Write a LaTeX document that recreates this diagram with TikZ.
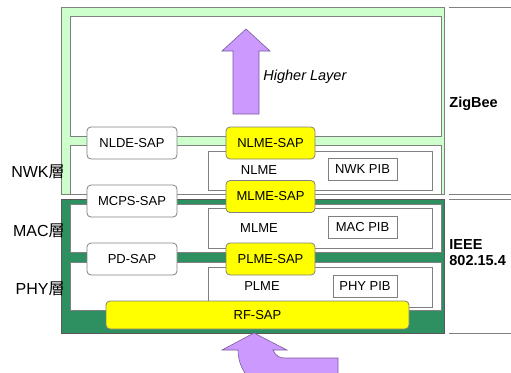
\documentclass[tikz,border=0pt]{standalone}
\usepackage{fontspec}
\setmainfont{Liberation Sans}
\newfontfamily\cjk{Noto Sans CJK JP}
\newlength{\du}
\setlength{\du}{1pt}

\begin{document}
\begin{tikzpicture}
\pgftransformxscale{1.000000}
\pgftransformyscale{-1.000000}
\definecolor{zbgreen}{rgb}{0.800000, 1.000000, 0.800000}
\definecolor{ieeegreen}{rgb}{0.180000, 0.560000, 0.380000}
\definecolor{sapyellow}{rgb}{1.000000, 1.000000, 0.000000}
\definecolor{uppurple}{rgb}{0.800000, 0.600000, 1.000000}
\definecolor{edgegray}{rgb}{0.500000, 0.500000, 0.500000}
\tikzset{
  sapbox/.style={draw=edgegray, rounded corners=4\du, fill=white, inner sep=0pt,
    minimum width=90\du, minimum height=32\du, font=\fontsize{13}{15}\selectfont},
  yellowsap/.style={sapbox, fill=sapyellow, minimum width=89\du},
  pibbox/.style={draw=edgegray, fill=white, inner sep=0pt,
    minimum width=69\du, minimum height=22\du, font=\fontsize{13}{15}\selectfont},
  plain/.style={inner sep=0pt, font=\fontsize{13}{15}\selectfont},
  layername/.style={inner sep=0pt, anchor=east, font=\fontsize{16}{18}\selectfont},
  stdname/.style={inner sep=0pt, anchor=west, align=left, font=\bfseries\fontsize{14.5}{16}\selectfont},
  bigarrow/.style={fill=uppurple, draw=uppurple!60!black, line width=0.6\du}
}
\useasboundingbox (0\du,0\du) rectangle (511\du,372\du);
\pgfsetlinewidth{0.8\du}
% ZigBee frame
\fill[zbgreen] (61\du,7\du) rectangle (444\du,194\du);
\draw[edgegray] (61\du,7\du) rectangle (444\du,194\du);
\filldraw[fill=white, draw=edgegray] (70\du,16\du) rectangle (441\du,136\du);
\filldraw[fill=white, draw=edgegray] (70\du,145\du) rectangle (441\du,194\du);
\filldraw[fill=white, draw=edgegray] (208\du,151\du) rectangle (432\du,190\du);
% IEEE 802.15.4 frame
\fill[ieeegreen] (61\du,199\du) rectangle (444\du,333\du);
\draw[edgegray!70!black] (61\du,199\du) rectangle (444\du,333\du);
\filldraw[fill=white, draw=edgegray] (70\du,204\du) rectangle (441\du,252\du);
\filldraw[fill=white, draw=edgegray] (208\du,208\du) rectangle (432\du,248\du);
\filldraw[fill=white, draw=edgegray] (70\du,262\du) rectangle (441\du,310\du);
\filldraw[fill=white, draw=edgegray] (208\du,267\du) rectangle (432\du,307\du);
% right side separators
\draw[edgegray] (449\du,7\du) -- (511\du,7\du);
\draw[edgegray] (449\du,194\du) -- (511\du,194\du);
\draw[edgegray] (449\du,199\du) -- (511\du,199\du);
\draw[edgegray] (449\du,333\du) -- (511\du,333\du);
% higher layer arrow
\filldraw[bigarrow] (246\du,29\du) -- (270\du,51\du) -- (259\du,51\du) -- (259\du,114\du)
  -- (233\du,114\du) -- (233\du,51\du) -- (222\du,51\du) -- cycle;
\node[plain, anchor=west, font=\itshape\fontsize{14.5}{16}\selectfont] (higher) at (263\du,77\du) {Higher Layer};
% access points
\node[sapbox] (nldesap) at (132\du,143\du) {NLDE-SAP};
\node[sapbox] (mcpssap) at (132\du,201\du) {MCPS-SAP};
\node[sapbox] (pdsap) at (132\du,259\du) {PD-SAP};
\node[yellowsap] (nlmesap) at (270.5\du,143\du) {NLME-SAP};
\node[yellowsap] (mlmesap) at (270.5\du,196.5\du) {MLME-SAP};
\node[yellowsap] (plmesap) at (270.5\du,259\du) {PLME-SAP};
\node[yellowsap, minimum width=303\du, minimum height=28\du] (rfsap) at (257.5\du,315\du) {RF-SAP};
% management entities
\node[plain] (nlme) at (259\du,170\du) {NLME};
\node[plain] (mlme) at (259\du,228\du) {MLME};
\node[plain] (plme) at (262\du,286\du) {PLME};
\node[pibbox] (nwkpib) at (362.5\du,169.5\du) {NWK PIB};
\node[pibbox] (macpib) at (362.5\du,227.5\du) {MAC PIB};
\node[pibbox, minimum width=64\du] (phypib) at (365\du,286\du) {PHY PIB};
% layer names
\node[layername] (nwk) at (65\du,172\du) {NWK{\cjk 層}};
\node[layername] (mac) at (65\du,231\du) {MAC{\cjk 層}};
\node[layername] (phy) at (65\du,289\du) {PHY{\cjk 層}};
\node[stdname] (zigbee) at (449\du,104\du) {ZigBee};
\node[stdname] (ieee) at (449\du,253\du) {IEEE\\802.15.4};
% incoming arrow from below
\begin{scope}
\clip (0\du,0\du) rectangle (511\du,372\du);
\filldraw[bigarrow] (254\du,333\du) -- (287\du,350\du) -- (273\du,350\du)
  .. controls (276\du,356\du) and (279\du,358\du) .. (285\du,358\du) -- (338\du,358\du)
  -- (338\du,392\du) -- (285\du,392\du)
  .. controls (255\du,392\du) and (238\du,372\du) .. (238\du,350\du)
  -- (222\du,350\du) -- cycle;
\end{scope}
\end{tikzpicture}
\end{document}
